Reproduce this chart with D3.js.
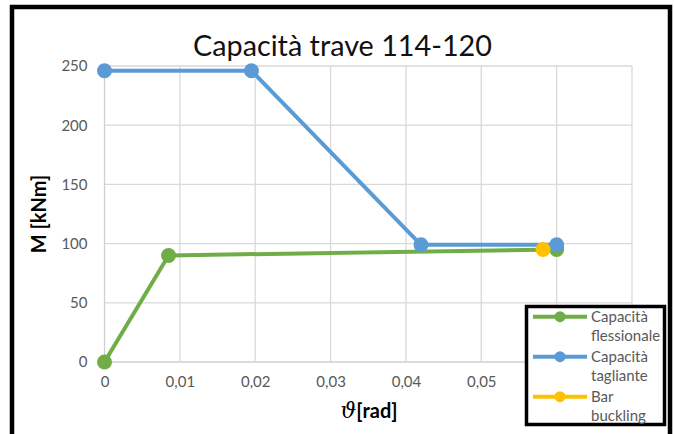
<!DOCTYPE html>
<html>
<head>
<meta charset="utf-8">
<script src="https://cdn.jsdelivr.net/npm/d3@7"></script>
<style>
  html, body { margin: 0; padding: 0; background: #fff; }
  svg { display: block; }
</style>
</head>
<body>
<script>
// Beam 114-120 capacity curves: rotation [rad] vs moment [kNm]
const flexRot   = [0, 0.0085, 0.06];
const flexMom   = [0, 90, 95];
const shearRot  = [0, 0.0195, 0.042, 0.06];
const shearMom  = [246, 246, 99, 99];
const buckRot   = [0.0582];
const buckMom   = [95];
const xGrid     = [0, 0.01, 0.02, 0.03, 0.04, 0.05, 0.06, 0.07];
const xTickLabels = [0, 0.01, 0.02, 0.03, 0.04, 0.05]; // the rest sit behind the legend
const yTicks    = [0, 50, 100, 150, 200, 250];
const seriesNames = [["Capacità", "flessionale"], ["Capacità", "tagliante"], ["Bar", "buckling"]];
const seriesColors = ["#70AD47", "#5B9BD5", "#FFC000"];

const W = 675, H = 434;
const svg = d3.select("body").append("svg").attr("width", W).attr("height", H);

const x = d3.scaleLinear().domain([0, 0.07]).range([104.5, 632]);
const y = d3.scaleLinear().domain([0, 250]).range([362, 66]);

const sans = "Lato, 'Open Sans', sans-serif";

// outer chart frame
svg.append("rect").attr("x", 12).attr("y", 7).attr("width", 658).attr("height", 450)
  .attr("fill", "#fff").attr("stroke", "#000").attr("stroke-width", 4.5);

// gridlines
const grid = svg.append("g");
grid.selectAll("line.h").data(yTicks).join("line").attr("class", "h")
  .attr("x1", x(0)).attr("x2", x(0.07)).attr("y1", d => y(d)).attr("y2", d => y(d))
  .attr("stroke", d => d === 0 ? "#cfcfcf" : "#d9d9d9").attr("stroke-width", 1.3);
grid.selectAll("line.v").data(xGrid).join("line").attr("class", "v")
  .attr("y1", y(0)).attr("y2", y(250)).attr("x1", d => x(d)).attr("x2", d => x(d))
  .attr("stroke", d => d === 0 ? "#cfcfcf" : "#d9d9d9").attr("stroke-width", 1.3);

// axes tick labels via d3 axes
const fmt = d => d === 0 ? "0" : d3.format(".2f")(d).replace(".", ",");
const xAxis = svg.append("g").attr("transform", `translate(0,${y(0)})`)
  .call(d3.axisBottom(x).tickValues(xTickLabels).tickFormat(fmt).tickSize(0).tickPadding(14));
const yAxis = svg.append("g").attr("transform", `translate(${x(0)},0)`)
  .call(d3.axisLeft(y).tickValues(yTicks).tickSize(0).tickPadding(17));
[xAxis, yAxis].forEach(a => {
  a.select(".domain").remove();
  a.selectAll("text").attr("fill", "#595959").style("font-family", sans).style("font-size", "15px");
});

// series
const line = d3.line().x(d => x(d[0])).y(d => y(d[1]));
const series = [
  d3.zip(flexRot, flexMom),
  d3.zip(shearRot, shearMom),
  d3.zip(buckRot, buckMom)
];
series.forEach((pts, i) => {
  const g = svg.append("g");
  g.append("path").attr("d", line(pts)).attr("fill", "none")
    .attr("stroke", seriesColors[i]).attr("stroke-width", 4).attr("stroke-linejoin", "round");
  g.selectAll("circle").data(pts).join("circle")
    .attr("cx", d => x(d[0])).attr("cy", d => y(d[1])).attr("r", 7.5)
    .attr("fill", seriesColors[i]);
});

// title
svg.append("text").attr("x", 342.5).attr("y", 56).attr("text-anchor", "middle")
  .attr("textLength", 299).attr("lengthAdjust", "spacingAndGlyphs")
  .style("font-family", sans).style("font-size", "28px").attr("fill", "#111")
  .text("Capacità trave 114-120");

// y axis title
svg.append("text").attr("transform", "translate(46,214) rotate(-90)")
  .attr("text-anchor", "middle").style("font-family", sans)
  .style("font-size", "20px").style("font-weight", "bold").attr("fill", "#000")
  .text("M [kNm]");

// x axis title
const xt = svg.append("text").attr("x", 369).attr("y", 418).attr("text-anchor", "middle").attr("fill", "#000");
xt.append("tspan").style("font-family", "'DejaVu Serif', serif").style("font-style", "italic")
  .style("font-size", "22px").text("ϑ");
xt.append("tspan").style("font-family", sans).style("font-weight", "bold")
  .style("font-size", "20px").text("[rad]");

// legend
const lg = svg.append("g");
lg.append("rect").attr("x", 526.5).attr("y", 306.5).attr("width", 138).attr("height", 118)
  .attr("fill", "#fff").attr("stroke", "#000").attr("stroke-width", 3.5);
seriesNames.forEach((nm, i) => {
  const cy = 316.7 + i * 40;
  lg.append("line").attr("x1", 533).attr("x2", 587).attr("y1", cy).attr("y2", cy)
    .attr("stroke", seriesColors[i]).attr("stroke-width", 4);
  lg.append("circle").attr("cx", 560).attr("cy", cy).attr("r", 5.5).attr("fill", seriesColors[i]);
  nm.forEach((t, j) => {
    lg.append("text").attr("x", 591).attr("y", cy + 5 + j * 19)
      .style("font-family", sans).style("font-size", "15px").attr("fill", "#595959").text(t);
  });
});
</script>
</body>
</html>
